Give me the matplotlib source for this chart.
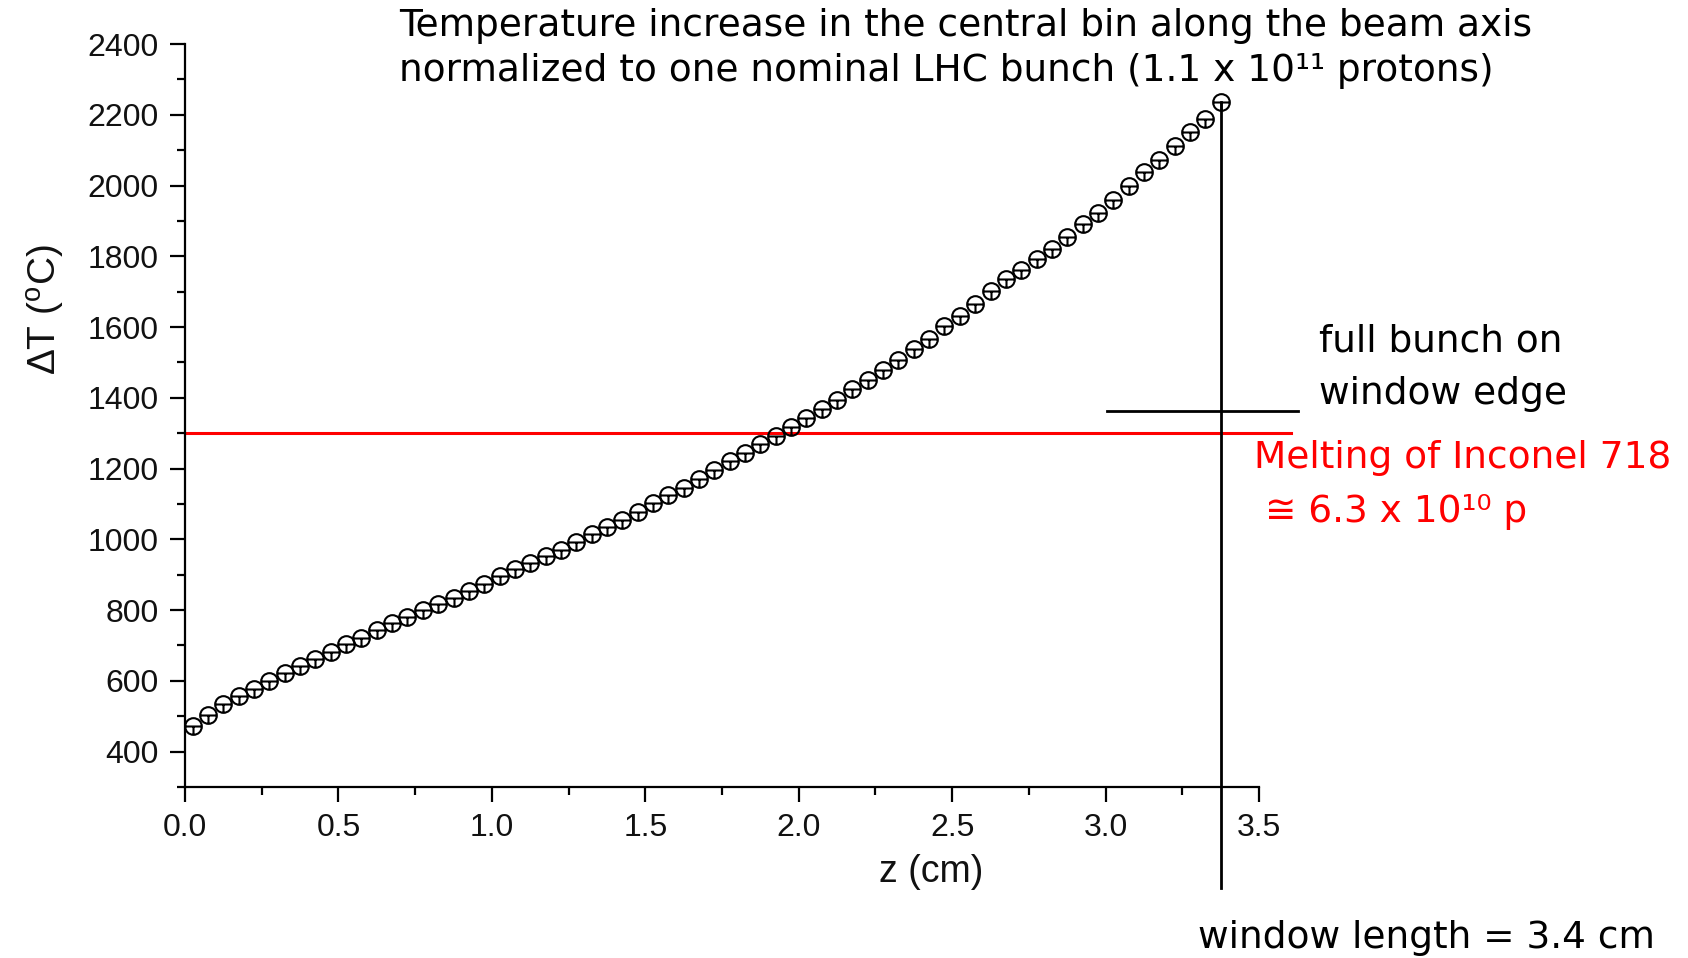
import matplotlib
matplotlib.use("Agg")
import matplotlib.pyplot as plt
from matplotlib.path import Path

# ---- data ----
z_cm = [0.025, 0.075, 0.125, 0.175, 0.225, 0.275, 0.325, 0.375, 0.425, 0.475,
        0.525, 0.575, 0.625, 0.675, 0.725, 0.775, 0.825, 0.875, 0.925, 0.975,
        1.025, 1.075, 1.125, 1.175, 1.225, 1.275, 1.325, 1.375, 1.425, 1.475,
        1.525, 1.575, 1.625, 1.675, 1.725, 1.775, 1.825, 1.875, 1.925, 1.975,
        2.025, 2.075, 2.125, 2.175, 2.225, 2.275, 2.325, 2.375, 2.425, 2.475,
        2.525, 2.575, 2.625, 2.675, 2.725, 2.775, 2.825, 2.875, 2.925, 2.975,
        3.025, 3.075, 3.125, 3.175, 3.225, 3.275, 3.325, 3.375]
dT = [473, 504, 535, 556, 578, 600, 622, 641, 663, 682,
      704, 720, 744, 763, 781, 799, 817, 834, 853, 874,
      896, 915, 933, 952, 971, 992, 1014, 1035, 1056, 1077,
      1104, 1124, 1146, 1170, 1197, 1222, 1245, 1269, 1292, 1318,
      1344, 1368, 1393, 1425, 1451, 1479, 1508, 1538, 1566, 1602,
      1632, 1665, 1702, 1736, 1762, 1791, 1821, 1854, 1890, 1923,
      1958, 1998, 2037, 2071, 2112, 2150, 2189, 2235]
melting_T = 1300
full_bunch_T = 1363
window_length = 3.375
x_ticks = [0.0, 0.5, 1.0, 1.5, 2.0, 2.5, 3.0, 3.5]
y_ticks = [400, 600, 800, 1000, 1200, 1400, 1600, 1800, 2000, 2200, 2400]

W, H = 1688, 958
fig = plt.figure(figsize=(W / 100, H / 100), dpi=100)
ax = fig.add_axes([185 / W, 1 - 787 / H, (1259 - 185) / W, (787 - 44) / H])

# custom marker: circle with horizontal diameter and lower radius
circle = Path.unit_circle()
hline = Path([(-1, 0), (1, 0)], [Path.MOVETO, Path.LINETO])
vline = Path([(0, 0), (0, -1)], [Path.MOVETO, Path.LINETO])
mk = Path.make_compound_path(circle, hline, vline)

ax.plot(z_cm, dT, linestyle='none', marker=mk, markersize=12,
        markerfacecolor='none', markeredgecolor='black', markeredgewidth=1.5,
        zorder=3)

ax.set_xlim(0, 3.5)
ax.set_ylim(300, 2400)
for s in ['top', 'right']:
    ax.spines[s].set_visible(False)
for s in ['left', 'bottom']:
    ax.spines[s].set_linewidth(1.6)

ax.set_xticks(x_ticks)
ax.set_xticks([0.25, 0.75, 1.25, 1.75, 2.25, 2.75, 3.25], minor=True)
ax.set_yticks(y_ticks)
ax.set_yticks([300, 500, 700, 900, 1100, 1300, 1500, 1700, 1900, 2100, 2300], minor=True)
ax.set_xticklabels([f"{v:.1f}" for v in x_ticks])
ax.set_yticklabels([str(v) for v in y_ticks])
ax.tick_params(which='major', length=11, width=1.6, direction='out', pad=8,
               labelsize=23)
ax.tick_params(which='minor', length=6, width=1.6, direction='out')
for lab in ax.get_xticklabels() + ax.get_yticklabels():
    lab.set_fontfamily('Liberation Sans')
    lab.set_color('#111111')

ax.set_xlabel('z (cm)', fontsize=27, fontfamily='Liberation Sans', color='#111111')
ax.xaxis.set_label_coords((931 - 185) / 1074, -0.09)
ax.set_ylabel('\u0394T ($^{\\mathregular{o}}$C)', fontsize=28,
              fontfamily='Liberation Sans', color='#111111')
ax.yaxis.set_label_coords(-0.110, (787 - 310) / 743)

# melting line
ax.plot([0, 3.603], [melting_T, melting_T], color='#ff0000', linewidth=2.2,
        clip_on=False, zorder=2)
# full bunch marker line
ax.plot([3.006, 3.626], [full_bunch_T, full_bunch_T], color='black',
        linewidth=2.0, clip_on=False, zorder=2)
# window length vertical line
ax.plot([window_length, window_length], [dT[-1], 15], color='black',
        linewidth=2.0, clip_on=False, zorder=2)

fam = 'DejaVu Sans'
def ftext(x, y, s, color='black', size=27):
    fig.text(x / W, 1 - y / H, s, fontsize=size, color=color, family=fam,
             ha='left', va='baseline')

ftext(399, 36, 'Temperature increase in the central bin along the beam axis')
ftext(399, 81, 'normalized to one nominal LHC bunch (1.1 x 10\u00b9\u00b9 protons)')
ftext(1319, 352, 'full bunch on')
ftext(1319, 404, 'window edge')
ftext(1254, 468, 'Melting of Inconel 718', color='#ff0000')
ftext(1265, 522, '\u2245 6.3 x 10\u00b9\u2070 p', color='#ff0000')
ftext(1198, 948, 'window length = 3.4 cm')

fig.savefig('out.png', dpi=100)
